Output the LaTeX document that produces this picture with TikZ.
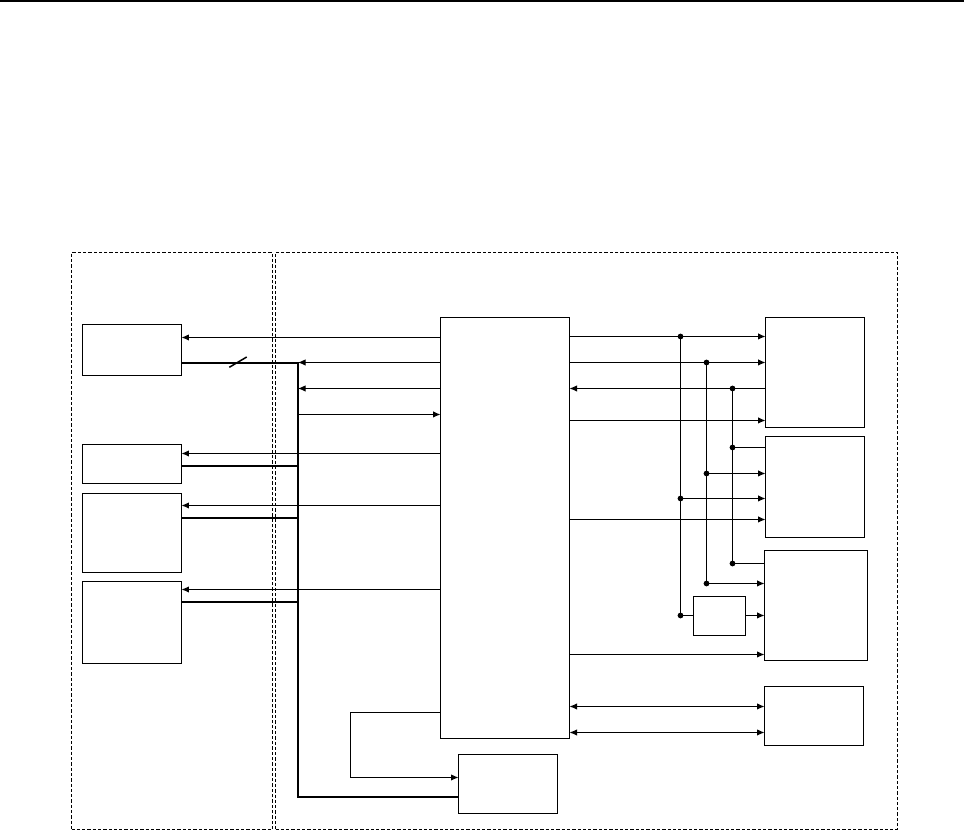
\documentclass[tikz,border=0pt]{standalone}
\usetikzlibrary{arrows.meta}
\tikzset{box/.style={draw,rectangle,inner sep=0pt,outer sep=0pt,line width=0.02cm},
  zone/.style={box,dash pattern=on 0.066cm off 0.04cm},
  dot/.style={fill,circle,inner sep=0pt,outer sep=0pt,minimum size=0.115cm},
  link/.style={line width=0.02cm,>={Latex[length=0.15cm,width=0.13cm]}},
  bus/.style={line width=0.04cm}}
\newcommand{\block}[6][box]{\node[#1,minimum width={(#5-#3)*0.02cm},minimum height={(#6-#4)*0.02cm}] (#2) at ({(#3+#5)/2},{(#4+#6)/2}) {};}
\newcommand{\link}[4][->]{\draw[link,#1] (#2 |- 0,#4) -- (#3 |- 0,#4);}
\newcommand{\busline}[2]{\draw[bus] (#1.east |- 0,#2) -- (busT |- 0,#2);}
\begin{document}
\begin{tikzpicture}[x=0.02cm,y=-0.02cm]
    \useasboundingbox (0,0) rectangle (964,830);
    \coordinate (topL) at (0,1); \coordinate (topR) at (964,1);
    \draw[line width=0.04cm] (topL) -- (topR);
    \block[zone]{Zleft}{71.5}{252.5}{272.5}{829.5}
    \block[zone]{Zright}{275.5}{252.5}{897.5}{829.5}
    \block{L1}{82.5}{324.5}{181.5}{375.5}    \block{L2}{82.5}{444.5}{181.5}{483.5}
    \block{L3}{82.5}{493.5}{181.5}{572.5}    \block{L4}{82.5}{581.5}{181.5}{663.5}
    \block{M}{440.5}{317.5}{569.5}{738.5}
    \block{R1}{765.5}{317.5}{864.5}{427.5}   \block{R2}{765.5}{436.5}{864.5}{537.5}
    \block{R3}{764.5}{550.5}{867.5}{660.5}   \block{R4}{764.5}{686.5}{863.5}{745.5}
    \block{S}{693.5}{596.5}{745.5}{635.5}    \block{B}{458.5}{754.5}{557.5}{813.5}
    % left side
    \coordinate (busT) at (298,363); \coordinate (busB) at (298,797);
    \coordinate (tickA) at (229.3,367.3); \coordinate (tickB) at (246.7,357);
    \draw[bus] (L1.east |- busT) -- (busT) -- (busB) -- (B.west |- busB);
    \draw[line width=0.03cm] (tickA) -- (tickB);
    \busline{L2}{466} \busline{L3}{518} \busline{L4}{602}
    \link{M.west}{L1.east}{337.5}
    \link{M.west}{busT}{362.5}\link{M.west}{busT}{388.5}
    \link{busT}{M.west}{414.5}
    \link{M.west}{L2.east}{453.5}\link{M.west}{L3.east}{505.5}\link{M.west}{L4.east}{589.5}
    % feedback
    \coordinate (fbA) at (350.5,712.5); \coordinate (fbB) at (350.5,777.5);
    \draw[link,->] (M.west |- fbA) -- (fbA) -- (fbB) -- (B.west |- fbB);
    % right side
    \node[dot] (a1) at (680.5,336.5) {}; \node[dot] (a2) at (680.5,498.5) {}; \node[dot] (a3) at (680.5,615.5) {};
    \node[dot] (b1) at (706.5,362.5) {}; \node[dot] (b2) at (706.5,473.5) {}; \node[dot] (b3) at (706.5,583.5) {};
    \node[dot] (c1) at (732.5,388.5) {}; \node[dot] (c2) at (732.5,447.5) {}; \node[dot] (c3) at (732.5,563.5) {};
    \draw[link] (a1) -- (a3); \draw[link] (b1) -- (b3); \draw[link] (c1) -- (c3);
    \link{M.east}{R1.west}{336.5}\link{M.east}{R1.west}{362.5}
    \link{R1.west}{M.east}{388.5}\link{M.east}{R1.west}{420.5}
    \link[-]{R2.west}{c2}{447.5}\link{b2}{R2.west}{473.5}\link{a2}{R2.west}{498.5}
    \link{M.east}{R2.west}{519.5}
    \link[-]{R3.west}{c3}{563.5}\link{b3}{R3.west}{583.5}
    \link[-]{a3}{S.west}{615.5}\link{S.east}{R3.west}{615.5}
    \link{M.east}{R3.west}{654.5}
    \link[<->]{M.east}{R4.west}{706.5}\link[<->]{M.east}{R4.west}{732.5}
\end{tikzpicture}
\end{document}
